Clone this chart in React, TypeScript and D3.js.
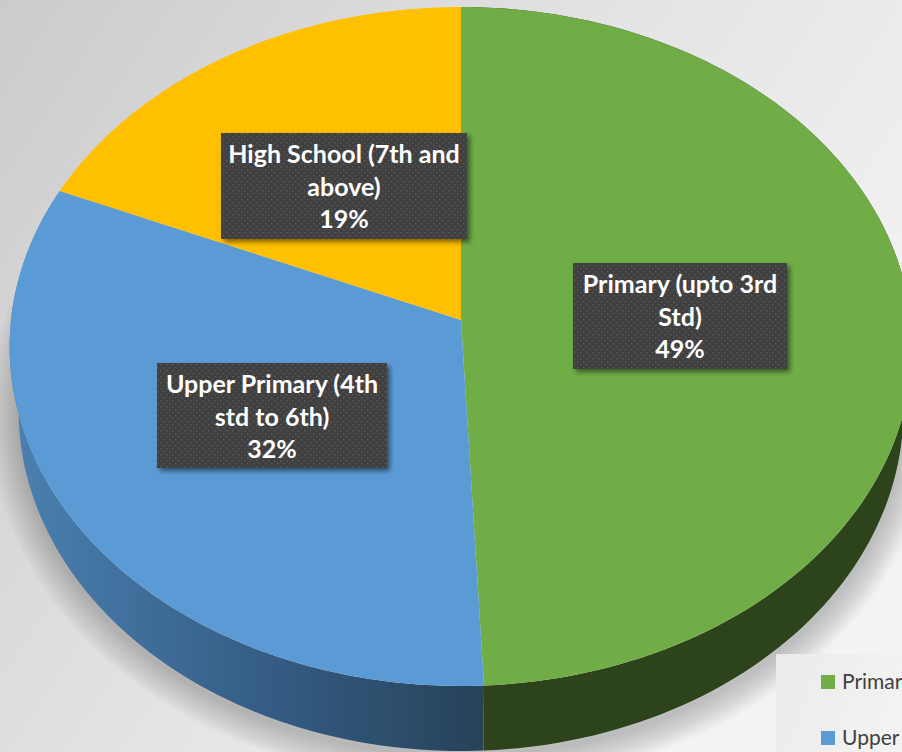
import React from "react";
import * as d3 from "d3";

const categories = ["Primary (upto 3rd Std)", "Upper Primary (4th std to 6th)", "High School (7th and above)"];
const shares = [49.25, 32.2, 18.55];
const topColors = ["#70ad47", "#5b9bd5", "#ffc000"];
const labelLines = [["Primary (upto 3rd", "Std)"], ["Upper Primary (4th", "std to 6th)"], ["High School (7th and", "above)"]];
const legendNames = [categories[0], categories[1]];

const W = 902, H = 752;
const labelBoxes = [
  { x: 573, y: 263, w: 214, h: 106 },
  { x: 157, y: 363, w: 230, h: 105 },
  { x: 221, y: 133, w: 246, h: 106 },
];

const persp = 0.078;
const topFace = { cx: 461, cy: 320, kx: 450, ky: 337.4 };
const bottomFace = { cx: 461, cy: 384, kx: 441, ky: 338.4 };
type Face = typeof topFace;

const project = (f: Face, t: number): [number, number] => {
  const u = Math.sin(t), v = Math.cos(t), d = 1 + persp * v;
  return [f.cx + (f.kx * u) / d, f.cy - (f.ky * v) / d];
};
const sample = (f: Face, a: number, b: number) => d3.range(0, 121).map((i) => project(f, a + ((b - a) * i) / 120));
const line = d3.line<[number, number]>();

const arcs = d3.pie<number>().sort(null)(shares);
const pct = d3.format(".0%");
const total = d3.sum(shares);
const shadowWidths = d3.range(4, 64, 4);

export default function App() {
  const full = line(sample(bottomFace, 0, 2 * Math.PI)) + "Z";
  return (
    <svg width={W} height={H} viewBox={`0 0 ${W} ${H}`} style={{ position: "fixed", left: 0, top: 0, display: "block" }}>
      <defs>
        <linearGradient id="bg" x1="0" y1="0" x2="1" y2="0.55">
          <stop offset="0" stopColor="#cbcbcb" />
          <stop offset="0.55" stopColor="#e4e4e4" />
          <stop offset="1" stopColor="#f3f3f3" />
        </linearGradient>
        <linearGradient id="blueWall" gradientUnits="userSpaceOnUse" x1="15" y1="0" x2="484" y2="0">
          <stop offset="0" stopColor="#4a80b0" />
          <stop offset="0.5" stopColor="#365f88" />
          <stop offset="1" stopColor="#274259" />
        </linearGradient>
        <linearGradient id="legendBg" x1="0" y1="0" x2="1" y2="0.3">
          <stop offset="0" stopColor="#ebebeb" />
          <stop offset="1" stopColor="#f2f2f2" />
        </linearGradient>
        <filter id="boxShadow" x="-10%" y="-10%" width="120%" height="125%">
          <feDropShadow dx="3" dy="3" stdDeviation="2.5" floodColor="#000" floodOpacity="0.5" />
        </filter>
        <pattern id="dots" width="6" height="6" patternUnits="userSpaceOnUse">
          <rect width="6" height="6" fill="#404040" />
          <rect x="1" y="1" width="1.4" height="1.4" fill="#5a5a5a" />
          <rect x="4" y="4" width="1.4" height="1.4" fill="#5a5a5a" />
        </pattern>
      </defs>
      <rect width={W} height={H} fill="url(#bg)" />
      <g transform="translate(0,4)" fill="none" stroke="#555555" strokeOpacity={0.024}>
        {shadowWidths.map((w) => <path key={w} d={full} strokeWidth={w} />)}
      </g>
      <rect x={776} y={654} width={W - 776} height={H - 654} fill="url(#legendBg)" />
      {legendNames.map((name, i) => (
        <g key={name}>
          <rect x={821} y={675 + i * 56} width={14} height={14} fill={topColors[i]} />
          <text x={842} y={689 + i * 56} fontFamily="Lato" fontSize={21} fill="#404040">{name}</text>
        </g>
      ))}
      {arcs.slice(0, 2).map((a, i) => (
        <path
          key={i}
          d={line([...sample(topFace, a.startAngle, a.endAngle), ...sample(bottomFace, a.startAngle, a.endAngle).reverse()]) + "Z"}
          fill={i === 0 ? "#2c431b" : "url(#blueWall)"}
        />
      ))}
      {arcs.map((a, i) => (
        <path
          key={i}
          d={line([[topFace.cx, topFace.cy], ...sample(topFace, a.startAngle, a.endAngle)]) + "Z"}
          fill={topColors[i]}
        />
      ))}
      {labelBoxes.map((b, i) => {
        const cx = b.x + b.w / 2;
        return (
          <g key={i} fontFamily="Lato" fontWeight={700} fontSize={25} fill="#fff" textAnchor="middle">
            <rect x={b.x} y={b.y} width={b.w} height={b.h} fill="url(#dots)" filter="url(#boxShadow)" />
            <text x={cx} y={b.y + 30}>{labelLines[i][0]}</text>
            <text x={cx} y={b.y + 63}>{labelLines[i][1]}</text>
            <text x={cx} y={b.y + 95}>{pct(shares[i] / total)}</text>
          </g>
        );
      })}
    </svg>
  );
}
